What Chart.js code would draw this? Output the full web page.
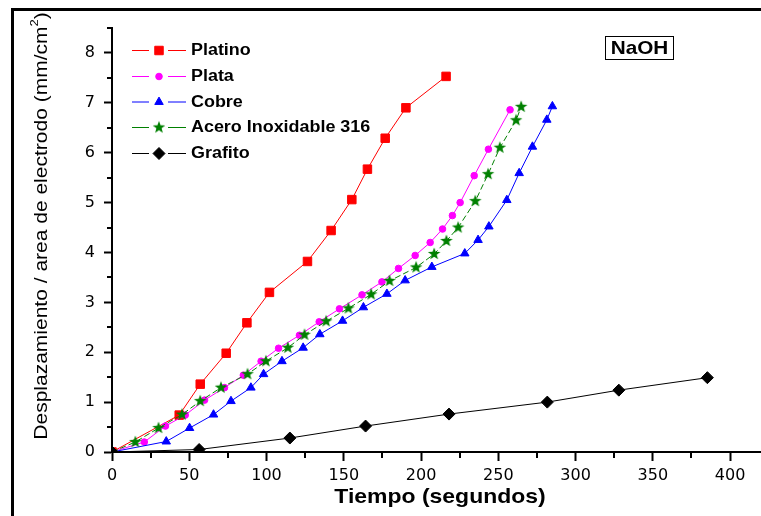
<!DOCTYPE html>
<html>
<head>
<meta charset="utf-8">
<script src="https://cdn.jsdelivr.net/npm/chart.js@4.4.1/dist/chart.umd.min.js"></script>
<style>
  html, body { margin: 0; padding: 0; background: #fff; }
  #wrap { width: 761px; height: 516px; position: relative; }
  canvas { display: block; }
</style>
</head>
<body>
<div id="wrap"><canvas id="c" width="761" height="516"></canvas></div>
<script>
// Tiempo (s) / desplazamiento por área (mm/cm²) para cada electrodo en NaOH
const platinoT = [0, 43.5, 57.1, 73.9, 87.3, 101.9, 126.5, 141.8, 155.2, 165.3, 176.8, 190.2, 216.2];
const platinoD = [0, 0.74, 1.36, 1.98, 2.59, 3.20, 3.82, 4.44, 5.06, 5.67, 6.29, 6.90, 7.53];

const plataT = [0, 20.9, 34.6, 47.4, 59.9, 72.8, 85.0, 96.5, 107.8, 121.3, 134.1, 147.2, 161.8, 174.7, 185.4, 196.2, 205.9, 213.9, 220.3, 225.3, 234.4, 243.6, 257.6];
const plataD = [0, 0.20, 0.52, 0.74, 1.04, 1.29, 1.54, 1.82, 2.08, 2.34, 2.61, 2.87, 3.15, 3.41, 3.68, 3.94, 4.20, 4.47, 4.74, 5.00, 5.54, 6.07, 6.86];

const cobreT = [0, 35.1, 50.2, 65.7, 77.0, 89.9, 98.1, 110.0, 123.7, 134.5, 149.2, 162.7, 177.9, 189.7, 207.0, 228.3, 236.9, 243.9, 255.5, 263.5, 272.1, 281.4, 285.0];
const cobreD = [0, 0.21, 0.48, 0.75, 1.02, 1.29, 1.56, 1.82, 2.09, 2.36, 2.63, 2.90, 3.17, 3.44, 3.71, 3.98, 4.25, 4.52, 5.05, 5.59, 6.12, 6.66, 6.93];

const aceroT = [0, 15.1, 30.1, 45.3, 57.1, 70.5, 87.7, 99.6, 113.8, 124.6, 138.6, 153.0, 167.7, 179.6, 196.8, 208.5, 216.4, 224.0, 235.1, 243.4, 251.0, 261.5, 264.8];
const aceroD = [0, 0.20, 0.48, 0.75, 1.02, 1.29, 1.56, 1.82, 2.09, 2.35, 2.62, 2.88, 3.16, 3.43, 3.70, 3.97, 4.23, 4.50, 5.03, 5.57, 6.10, 6.65, 6.92];

const grafitoT = [0, 56.4, 115.1, 164.1, 218.1, 281.7, 328.0, 385.3];
const grafitoD = [0, 0.05, 0.28, 0.52, 0.76, 1.00, 1.24, 1.49];

const seriesNames = ['Platino', 'Plata', 'Cobre', 'Acero Inoxidable 316', 'Grafito'];
const xTitle = 'Tiempo (segundos)';
const yTitleMain = 'Desplazamiento / area de electrodo (mm/cm';
const yTitleSup = '2';
const yTitleEnd = ')';
const boxLabel = 'NaOH';

const FONT = '"Liberation Sans", Arial, Helvetica, sans-serif';

function pts(xs, ys) { return xs.map((x, i) => ({ x: x, y: ys[i] })); }

// filled five-point star used as a point style
function makeStar(color, R, r) {
  const size = Math.ceil(2 * R + 2);
  const c = document.createElement('canvas');
  c.width = c.height = size;
  const g = c.getContext('2d');
  g.fillStyle = color;
  g.beginPath();
  for (let i = 0; i < 10; i++) {
    const rad = (i % 2) ? r : R;
    const a = -Math.PI / 2 + i * Math.PI / 5;
    g.lineTo(size / 2 + rad * Math.cos(a), size / 2 + rad * Math.sin(a));
  }
  g.closePath();
  g.fill();
  return c;
}
const greenStar = makeStar('#008000', 6.6, 2.7);

const styles = [
  { color: '#ff0000', point: 'rect', radius: 6.0, dash: [] },
  { color: '#ff00ff', point: 'circle', radius: 3.3, dash: [] },
  { color: '#0000ff', point: 'triangle', radius: 4.9, dash: [] },
  { color: '#008000', point: greenStar, radius: 6, dash: [6, 3] },
  { color: '#000000', point: 'rectRot', radius: 6.0, dash: [] }
];
const seriesData = [
  pts(platinoT, platinoD),
  pts(plataT, plataD),
  pts(cobreT, cobreD),
  pts(aceroT, aceroD),
  pts(grafitoT, grafitoD)
];

const datasets = seriesData.map((d, i) => ({
  label: seriesNames[i],
  data: d,
  borderColor: styles[i].color,
  backgroundColor: styles[i].color,
  borderWidth: 1,
  borderDash: styles[i].dash,
  pointStyle: styles[i].point,
  pointRadius: styles[i].radius,
  pointBorderWidth: 1,
  pointBorderColor: styles[i].color,
  pointBackgroundColor: styles[i].color,
  tension: 0,
  order: 5 - i
}));

function drawMarker(ctx, st, x, y) {
  ctx.save();
  ctx.fillStyle = st.color;
  ctx.strokeStyle = st.color;
  ctx.lineWidth = 1;
  ctx.setLineDash([]);
  const r = st.radius;
  if (typeof st.point !== 'string') {
    ctx.drawImage(st.point, x - st.point.width / 2, y - st.point.height / 2);
    ctx.restore();
    return;
  }
  ctx.beginPath();
  if (st.point === 'rect') {
    const s = Math.SQRT1_2 * r;
    ctx.rect(x - s, y - s, 2 * s, 2 * s);
  } else if (st.point === 'circle') {
    ctx.arc(x, y, r, 0, Math.PI * 2);
  } else if (st.point === 'triangle') {
    for (let k = 0; k < 3; k++) {
      const a = k * 2 * Math.PI / 3;
      ctx.lineTo(x + Math.sin(a) * r, y - Math.cos(a) * r);
    }
    ctx.closePath();
  } else if (st.point === 'rectRot') {
    ctx.moveTo(x - r, y); ctx.lineTo(x, y - r); ctx.lineTo(x + r, y); ctx.lineTo(x, y + r);
    ctx.closePath();
  }
  ctx.fill();
  ctx.stroke();
  ctx.restore();
}

// frame, minor ticks, axis titles, legend and the NaOH label
const decor = {
  id: 'decor',
  afterDraw(chart) {
    const ctx = chart.ctx;
    const area = chart.chartArea;
    const xs = chart.scales.x, ys = chart.scales.y;

    ctx.save();
    // minor ticks
    ctx.strokeStyle = '#000';
    ctx.lineWidth = 2;
    xs.ticks.forEach(t => {
      if (t.value % 50 !== 0) {
        const px = Math.round(xs.getPixelForValue(t.value));
        ctx.beginPath(); ctx.moveTo(px, area.bottom); ctx.lineTo(px, area.bottom + 6); ctx.stroke();
      }
    });
    ys.ticks.forEach(t => {
      if (!Number.isInteger(t.value)) {
        const py = Math.round(ys.getPixelForValue(t.value));
        ctx.beginPath(); ctx.moveTo(area.left, py); ctx.lineTo(area.left - 5, py); ctx.stroke();
      }
    });

    // outer frame
    ctx.lineWidth = 3;
    ctx.strokeRect(12.5, 9.5, 900, 700);

    // x title
    ctx.fillStyle = '#000';
    ctx.textBaseline = 'middle';
    ctx.textAlign = 'center';
    ctx.save();
    ctx.translate(440, 497);
    ctx.scale(1.12, 1);
    ctx.font = 'bold 20.5px ' + FONT;
    ctx.fillText(xTitle, 0, 0);
    ctx.restore();

    // y title with superscript
    ctx.save();
    ctx.translate(42, 226);
    ctx.rotate(-Math.PI / 2);
    ctx.scale(1.2, 1);
    const fs = 17.5;
    const mainFont = fs + 'px ' + FONT;
    const supFont = (fs * 0.62) + 'px ' + FONT;
    ctx.font = mainFont;
    const w1 = ctx.measureText(yTitleMain).width;
    const w3 = ctx.measureText(yTitleEnd).width;
    ctx.font = supFont;
    const w2 = ctx.measureText(yTitleSup).width;
    let x0 = -(w1 + w2 + w3) / 2;
    ctx.textAlign = 'left';
    ctx.font = mainFont;
    ctx.fillText(yTitleMain, x0, 0);
    ctx.font = supFont;
    ctx.fillText(yTitleSup, x0 + w1, -fs * 0.42);
    ctx.font = mainFont;
    ctx.fillText(yTitleEnd, x0 + w1 + w2, 0);
    ctx.restore();

    // legend
    const rowsY = [50, 76, 101.5, 127, 153];
    seriesNames.forEach((name, i) => {
      const st = styles[i];
      const y = rowsY[i];
      ctx.save();
      ctx.strokeStyle = st.color;
      ctx.lineWidth = 1;
      ctx.beginPath();
      ctx.moveTo(132, y + 0.5); ctx.lineTo(149, y + 0.5);
      ctx.moveTo(168, y + 0.5); ctx.lineTo(186, y + 0.5);
      ctx.stroke();
      ctx.restore();
      drawMarker(ctx, st, 159, y + 0.5);
      ctx.save();
      ctx.translate(191, y + 1);
      ctx.scale(1.12, 1);
      ctx.fillStyle = '#000';
      ctx.textAlign = 'left';
      ctx.textBaseline = 'middle';
      ctx.font = 'bold 16px ' + FONT;
      ctx.fillText(name, 0, 0);
      ctx.restore();
    });

    // NaOH box
    ctx.lineWidth = 1;
    ctx.strokeStyle = '#000';
    ctx.strokeRect(605.5, 36.5, 68, 23);
    ctx.save();
    ctx.translate(639.5, 49);
    ctx.scale(1.12, 1);
    ctx.textAlign = 'center';
    ctx.textBaseline = 'middle';
    ctx.font = 'bold 18.5px ' + FONT;
    ctx.fillText(boxLabel, 0, 0);
    ctx.restore();

    ctx.restore();
  }
};

new Chart(document.getElementById('c'), {
  type: 'line',
  data: { datasets: datasets },
  options: {
    responsive: false,
    devicePixelRatio: 1,
    animation: false,
    layout: { autoPadding: false, padding: { top: 28, right: 0, bottom: 0, left: 0 } },
    plugins: { legend: { display: false }, tooltip: { enabled: false }, title: { display: false } },
    scales: {
      x: {
        type: 'linear',
        min: 0,
        max: 420,
        afterFit: s => { s.height = 64; s.paddingRight = 0; s.paddingLeft = 0; },
        border: { display: true, color: '#000', width: 2 },
        grid: {
          display: true,
          drawOnChartArea: false,
          drawTicks: true,
          tickLength: 9,
          tickWidth: 2,
          tickColor: c => (c.tick && c.tick.value % 50 === 0) ? '#000' : 'rgba(0,0,0,0)'
        },
        ticks: {
          stepSize: 25,
          autoSkip: false,
          includeBounds: false,
          maxRotation: 0,
          padding: 5,
          color: '#000',
          font: { family: '"DejaVu Sans", sans-serif', size: 16 },
          callback: v => (v % 50 === 0 ? String(v) : '')
        }
      },
      y: {
        type: 'linear',
        min: 0,
        max: 8.5,
        afterFit: s => { s.width = 112; s.paddingTop = 0; s.paddingBottom = 0; },
        border: { display: true, color: '#000', width: 2 },
        grid: {
          display: true,
          drawOnChartArea: false,
          drawTicks: true,
          tickLength: 8,
          tickWidth: 2,
          tickColor: c => (c.tick && Number.isInteger(c.tick.value)) ? '#000' : 'rgba(0,0,0,0)'
        },
        ticks: {
          stepSize: 0.5,
          autoSkip: false,
          padding: 9,
          color: '#000',
          font: { family: '"DejaVu Sans", sans-serif', size: 16 },
          callback: v => (Number.isInteger(v) ? String(v) : '')
        }
      }
    }
  },
  plugins: [decor]
});
</script>
</body>
</html>
